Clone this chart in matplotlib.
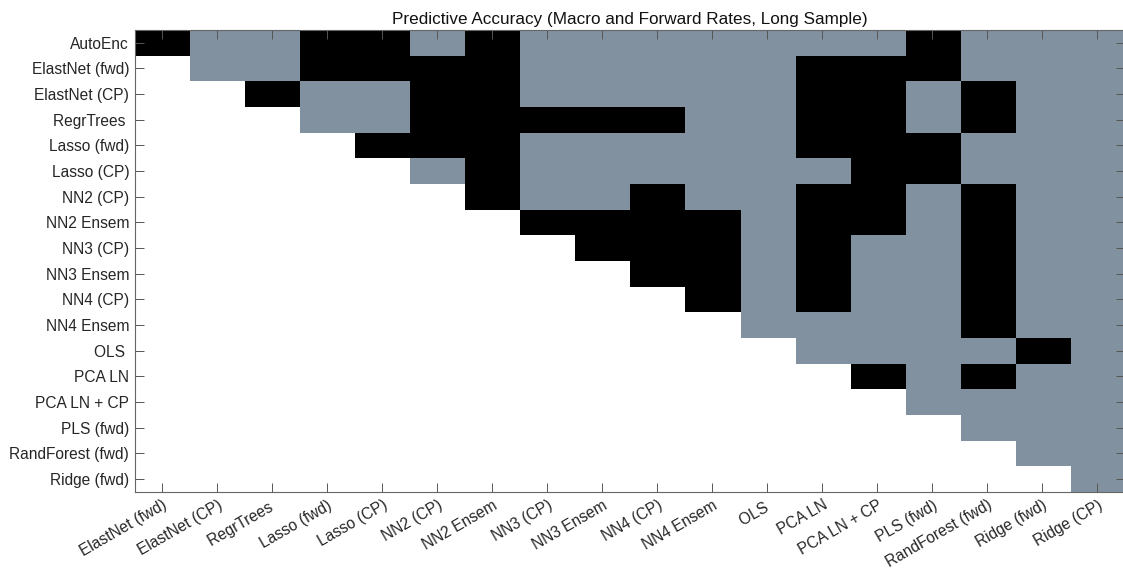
import numpy as np
import matplotlib
matplotlib.use('Agg')
import matplotlib.pyplot as plt
from matplotlib.colors import ListedColormap

plt.rcParams['font.family'] = ['Liberation Sans', 'DejaVu Sans']

models = ['AutoEnc', 'ElastNet (fwd)', 'ElastNet (CP)', 'RegrTrees ', 'Lasso (fwd)',
          'Lasso (CP)', 'NN2 (CP)', 'NN2 Ensem', 'NN3 (CP)', 'NN3 Ensem', 'NN4 (CP)',
          'NN4 Ensem', 'OLS ', 'PCA LN', 'PCA LN + CP', 'PLS (fwd)', 'RandForest (fwd)',
          'Ridge (fwd)', 'Ridge (CP)']
row_labels = models[:-1]
col_labels = models[1:]

# 1 = gray, 2 = black ; row i starts at column i (upper triangle)
rows = [
    [2, 1, 1, 2, 2, 1, 2, 1, 1, 1, 1, 1, 1, 1, 2, 1, 1, 1],
    [1, 1, 2, 2, 2, 2, 1, 1, 1, 1, 1, 2, 2, 2, 1, 1, 1],
    [2, 1, 1, 2, 2, 1, 1, 1, 1, 1, 2, 2, 1, 2, 1, 1],
    [1, 1, 2, 2, 2, 2, 2, 1, 1, 2, 2, 1, 2, 1, 1],
    [2, 2, 2, 1, 1, 1, 1, 1, 2, 2, 2, 1, 1, 1],
    [1, 2, 1, 1, 1, 1, 1, 1, 2, 2, 1, 1, 1],
    [2, 1, 1, 2, 1, 1, 2, 2, 1, 2, 1, 1],
    [2, 2, 2, 2, 1, 2, 2, 1, 2, 1, 1],
    [2, 2, 2, 1, 2, 1, 1, 2, 1, 1],
    [2, 2, 1, 2, 1, 1, 2, 1, 1],
    [2, 1, 2, 1, 1, 2, 1, 1],
    [1, 1, 1, 1, 2, 1, 1],
    [1, 1, 1, 1, 2, 1],
    [2, 1, 2, 1, 1],
    [1, 1, 1, 1],
    [1, 1, 1],
    [1, 1],
    [1],
]

n = len(rows)
M = np.full((n, n), np.nan)
for i, r in enumerate(rows):
    M[i, i:] = r

cmap = ListedColormap(['#8191a0', '#000000'])
cmap.set_bad('white')

fig = plt.figure(figsize=(11.23, 5.75), dpi=100)
ax = fig.add_axes([134.7/1123, 83/575, 990.3/1123, 462/575])
ax.imshow(np.ma.masked_invalid(M), cmap=cmap, vmin=0.5, vmax=2.5,
          aspect='auto', interpolation='nearest')

ax.set_xticks(range(n))
ax.set_xticklabels(col_labels, rotation=30, ha='right', rotation_mode='anchor')
ax.set_yticks(range(n))
ax.set_yticklabels(row_labels)
ax.tick_params(direction='in', top=True, right=True, length=6.5, width=0.7,
               color='#555555', labelsize=11.2, labelcolor='#262626')
ax.tick_params(axis='x', pad=4)
ax.tick_params(axis='y', pad=4)
for s in ax.spines.values():
    s.set_color('#666666')
    s.set_linewidth(0.8)

ax.set_title('Predictive Accuracy (Macro and Forward Rates, Long Sample)',
             fontsize=12.3, pad=4, color='#111111')

fig.savefig('out.png', dpi=100)
